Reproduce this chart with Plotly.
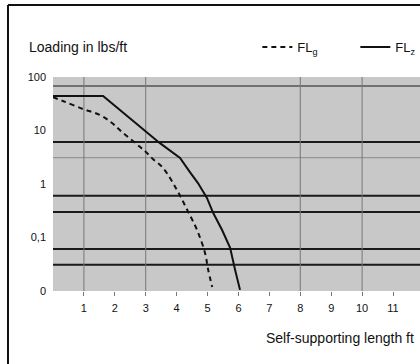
import plotly.graph_objects as go

# ---- data ----
solid_x = [0, 1.62, 3.46, 3.79, 4.11, 4.43, 4.69, 4.98, 5.18, 5.47, 5.73, 5.89, 6.05]
solid_y = [44, 44, 5.8, 4.2, 3.06, 1.67, 1.04, 0.55, 0.29, 0.138, 0.064, 0.025, 0.0105]
dashed_x = [0, 0.32, 0.97, 1.52, 1.91, 2.23, 2.82, 3.04, 3.24, 3.56, 4.01, 4.34, 4.66, 4.92, 5.02, 5.15]
dashed_y = [42, 35.6, 25.2, 19.5, 13.8, 9.4, 4.9, 3.8, 2.9, 2.0, 0.77, 0.33, 0.138, 0.051, 0.025, 0.0119]
series_names = ["FL<sub>g</sub>", "FL<sub>z</sub>"]

x_ticks = [1, 2, 3, 4, 5, 6, 7, 8, 9, 10, 11]
x_ticklabels = ["1", "2", "3", "4", "5", "6", "7", "8", "9", "10", "11"]
y_ticks = [100, 10, 1, 0.1, 0.01]
y_ticklabels = ["100", "10", "1", "0,1", "0"]

hlines_dark = [6.1, 0.6, 0.3, 0.061, 0.031]
hlines_mid = [68]
hlines_light = [3.1]
vlines = [1, 3, 8, 10]

FONT = "Liberation Sans, Arial, sans-serif"

fig = go.Figure()
fig.add_trace(go.Scatter(x=dashed_x, y=dashed_y, mode="lines", name=series_names[0],
                         line=dict(color="#111", width=2, dash="5px,4px"),
                         line_shape="spline"))
fig.add_trace(go.Scatter(x=solid_x, y=solid_y, mode="lines", name=series_names[1],
                         line=dict(color="#111", width=2), line_shape="linear"))

for v in hlines_dark:
    fig.add_hline(y=v, line=dict(color="#1a1a1a", width=2), layer="below")
for v in hlines_mid:
    fig.add_hline(y=v, line=dict(color="#555", width=1.5), layer="below")
for v in hlines_light:
    fig.add_hline(y=v, line=dict(color="#8a8a8a", width=1), layer="below")
for v in vlines:
    fig.add_vline(x=v, line=dict(color="#777", width=1), layer="below")

# outer frame (left and top edges; the rest lies outside the crop)
fig.add_shape(type="line", xref="paper", yref="paper", x0=-0.1163, x1=-0.1163, y0=-0.6, y1=1.336,
              line=dict(color="#111", width=2), layer="above")
fig.add_shape(type="line", xref="paper", yref="paper", x0=-0.1163, x1=1.2, y0=1.336, y1=1.336,
              line=dict(color="#111", width=2), layer="above")

fig.add_annotation(text="Loading in lbs/ft", xref="paper", yref="paper",
                   x=-0.0682, y=1.14, xanchor="left", yanchor="middle", showarrow=False,
                   font=dict(family=FONT, size=14, color="#111"))
fig.add_annotation(text="Self-supporting length ft", xref="paper", yref="paper",
                   x=0.5453, y=-0.22, xanchor="left", yanchor="middle", showarrow=False,
                   font=dict(family=FONT, size=14, color="#111"))

fig.update_layout(
    width=440, height=364,
    margin=dict(l=53, r=0, t=77, b=73, autoexpand=False),
    paper_bgcolor="white", plot_bgcolor="#c8c8c8",
    font=dict(family=FONT, size=11, color="#111"),
    showlegend=True,
    legend=dict(orientation="h", x=0.528, y=1.14, xanchor="left", yanchor="middle",
                font=dict(family=FONT, size=13, color="#111"), bgcolor="rgba(0,0,0,0)",
                itemwidth=30, entrywidth=53, tracegroupgap=0),
    xaxis=dict(range=[0, 12.52], tickvals=x_ticks, ticktext=x_ticklabels, showgrid=False,
               zeroline=False, showline=False, ticks="outside", ticklen=4, tickcolor="#777",
               ticklabelstandoff=3, tickfont=dict(size=11)),
    yaxis=dict(type="log", range=[-2, 2], tickvals=y_ticks, ticktext=y_ticklabels,
               showgrid=False, zeroline=False, showline=False, ticks="", ticklabelstandoff=6,
               tickfont=dict(size=11)),
)

fig.write_html("out.html", config={"displayModeBar": False},
               post_script=("document.body.style.margin='0';"
                            "document.body.style.overflow='hidden';"
                            "document.documentElement.style.overflow='hidden';"))
